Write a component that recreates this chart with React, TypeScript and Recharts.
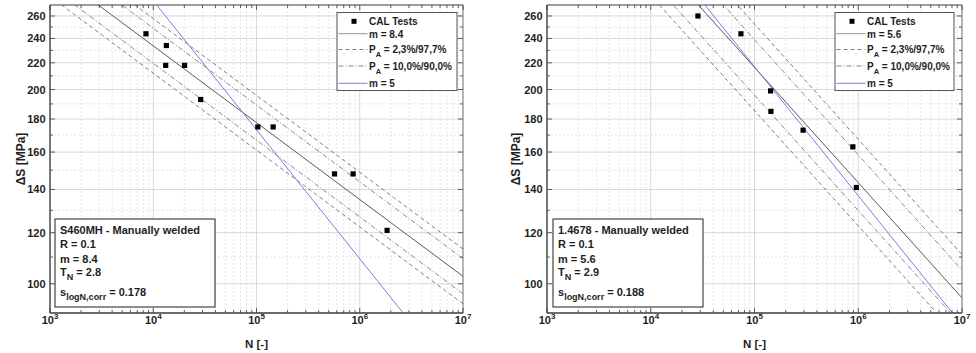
import React from 'react';
import { ComposedChart, Line, Scatter, XAxis, YAxis, ReferenceLine, ReferenceArea } from 'recharts';

const FONT = '"Liberation Sans", Arial, Helvetica, sans-serif';
const AX = '#3a3a3a';
const TXT = '#1e1e1e';

// ---- axes / ticks ----
const xDomain = [1e3, 1e7];
const yDomain = [90.1, 270.4];
const xMajorTicks = [1e3, 1e4, 1e5, 1e6, 1e7];
const xMinorTicks = [
  2e3, 3e3, 4e3, 5e3, 6e3, 7e3, 8e3, 9e3,
  2e4, 3e4, 4e4, 5e4, 6e4, 7e4, 8e4, 9e4,
  2e5, 3e5, 4e5, 5e5, 6e5, 7e5, 8e5, 9e5,
  2e6, 3e6, 4e6, 5e6, 6e6, 7e6, 8e6, 9e6,
];
const yMajorTicks = [100, 120, 140, 160, 180, 200, 220, 240, 260];
const yMinorTicks = [110, 130, 150, 170, 190, 210, 230, 250];

// ---- line endpoints (N at both ends) ----
const lineN = [1e3, 1e7];

// ---- left panel: S460MH ----
const leftTestN = [8500, 13400, 13200, 20100, 28800, 103000, 145000, 570000, 863000, 1840000];
const leftTestS = [244, 234, 218, 218, 193, 175, 175, 148, 148, 121];
const leftMeanS = [307.4, 102.7];
const leftP977S = [338.9, 113.2];
const leftP023S = [278.9, 93.1];
const leftP90S = [327.3, 109.4];
const leftP10S = [288.8, 96.5];
const leftM5S = [435, 69.0];

// ---- right panel: 1.4678 ----
const rightTestN = [28500, 74000, 143000, 144000, 294000, 887000, 960000];
const rightTestS = [260, 244, 199, 185, 173, 163, 141];
const rightMeanS = [492.7, 95.1];
const rightP977S = [575.2, 111.0];
const rightP023S = [422.2, 81.5];
const rightP90S = [544.0, 105.0];
const rightP10S = [446.2, 86.1];
const rightM5S = [545, 86.4];

const pts = (ns: number[], ss: number[]) => ns.map((n, i) => ({ N: n, S: ss[i] }));

const PLOT_TOP = 5;
const CH_W = 488;
const CH_H = 353;

type PanelProps = {
  left: number;
  yAxisWidth: number;
  rightMargin: number;
  testN: number[];
  testS: number[];
  meanS: number[];
  p977S: number[];
  p023S: number[];
  p90S: number[];
  p10S: number[];
  m5S: number[];
  mText: string;
  title: string;
  rText: string;
  tnText: string;
  sText: string;
  legendX: number;
  legendW: number;
  annX: number;
  annW: number;
  yLabelX: number;
};

const squareShape = (p: any) => (
  <rect x={p.cx - 2.6} y={p.cy - 2.6} width={5.2} height={5.2} fill="#000" />
);

function Panel(props: PanelProps) {
  const plotLeft = props.yAxisWidth;
  const plotRight = CH_W - props.rightMargin;
  const plotBottom = CH_H - 40;

  const XTick = (tp: any) => {
    const { x, y, payload } = tp;
    const v = payload.value;
    const major = xMajorTicks.includes(v);
    const len = major ? 5 : 3;
    const exp = Math.round(Math.log10(v));
    return (
      <g>
        <line x1={x} x2={x} y1={y} y2={y - len} stroke={AX} strokeWidth={0.8} />
        <line x1={x} x2={x} y1={PLOT_TOP} y2={PLOT_TOP + len} stroke={AX} strokeWidth={0.8} />
        {major && (
          <text x={x} y={y + 10.5} textAnchor="middle" fontFamily={FONT} fontWeight="bold" fontSize={11} fill={TXT}>
            10
            <tspan dy={-5} fontSize={8}>{exp}</tspan>
          </text>
        )}
      </g>
    );
  };

  const YTick = (tp: any) => {
    const { x, y, payload } = tp;
    const v = payload.value;
    const major = yMajorTicks.includes(v);
    const len = major ? 5 : 3;
    return (
      <g>
        <line x1={x} x2={x + len} y1={y} y2={y} stroke={AX} strokeWidth={0.8} />
        <line x1={plotRight - len} x2={plotRight} y1={y} y2={y} stroke={AX} strokeWidth={0.8} />
        {major && (
          <text x={x - 4.5} y={y + 4} textAnchor="end" fontFamily={FONT} fontWeight="bold" fontSize={11} fill={TXT}>
            {v}
          </text>
        )}
      </g>
    );
  };

  const lx = props.legendX;
  const legRows = [21.3, 33.7, 49.5, 66, 83.3];
  const legBase = [25.3, 37.7, 53.3, 70, 87.3];
  const tx = lx + 32;
  const ax = props.annX;
  const atx = ax + 5;

  return (
    <div style={{ position: 'absolute', left: props.left, top: 0, width: CH_W, height: CH_H }}>
      <ComposedChart width={CH_W} height={CH_H} margin={{ top: PLOT_TOP, right: props.rightMargin, bottom: 0, left: 0 }}>
        <XAxis
          type="number"
          dataKey="N"
          scale="log"
          domain={xDomain}
          allowDataOverflow
          ticks={[...xMajorTicks, ...xMinorTicks]}
          interval={0}
          tick={XTick}
          tickSize={0}
          tickMargin={0}
          tickLine={false}
          axisLine={{ stroke: AX, strokeWidth: 1 }}
          height={40}
        />
        <YAxis
          type="number"
          dataKey="S"
          scale="log"
          domain={yDomain}
          allowDataOverflow
          ticks={[...yMajorTicks, ...yMinorTicks]}
          interval={0}
          tick={YTick}
          tickSize={0}
          tickMargin={0}
          tickLine={false}
          axisLine={{ stroke: AX, strokeWidth: 1 }}
          width={props.yAxisWidth}
        />
        {xMinorTicks.map((v) => (
          <ReferenceLine key={'xm' + v} x={v} stroke="#dedede" strokeWidth={0.8} strokeDasharray="2 2" />
        ))}
        {yMinorTicks.map((v) => (
          <ReferenceLine key={'ym' + v} y={v} stroke="#dedede" strokeWidth={0.8} strokeDasharray="2 2" />
        ))}
        {xMajorTicks.map((v) => (
          <ReferenceLine key={'xM' + v} x={v} stroke="#d4d4d4" strokeWidth={0.9} />
        ))}
        {yMajorTicks.map((v) => (
          <ReferenceLine key={'yM' + v} y={v} stroke="#d4d4d4" strokeWidth={0.9} />
        ))}
        <Line data={pts(lineN, props.p977S)} dataKey="S" type="linear" stroke="#5e5e5e" strokeWidth={0.8} strokeDasharray="4 3" dot={false} activeDot={false} isAnimationActive={false} />
        <Line data={pts(lineN, props.p023S)} dataKey="S" type="linear" stroke="#5e5e5e" strokeWidth={0.8} strokeDasharray="4 3" dot={false} activeDot={false} isAnimationActive={false} />
        <Line data={pts(lineN, props.p90S)} dataKey="S" type="linear" stroke="#6a6a6a" strokeWidth={0.8} strokeDasharray="5 2 1 2" dot={false} activeDot={false} isAnimationActive={false} />
        <Line data={pts(lineN, props.p10S)} dataKey="S" type="linear" stroke="#6a6a6a" strokeWidth={0.8} strokeDasharray="5 2 1 2" dot={false} activeDot={false} isAnimationActive={false} />
        <Line data={pts(lineN, props.meanS)} dataKey="S" type="linear" stroke="#5a5a5a" strokeWidth={1} dot={false} activeDot={false} isAnimationActive={false} />
        <Line data={pts(lineN, props.m5S)} dataKey="S" type="linear" stroke="#7d7de0" strokeWidth={1} dot={false} activeDot={false} isAnimationActive={false} />
        <Scatter data={pts(props.testN, props.testS)} dataKey="S" shape={squareShape} isAnimationActive={false} />
        <ReferenceArea x1={xDomain[0]} x2={xDomain[1]} y1={yDomain[0]} y2={yDomain[1]} fill="none" fillOpacity={0} stroke={AX} strokeWidth={1} />
      </ComposedChart>
      <svg width={CH_W} height={CH_H} style={{ position: 'absolute', left: 0, top: 0, pointerEvents: 'none' }}>
        {/* axis labels */}
        <text x={(plotLeft + plotRight) / 2} y={348} textAnchor="middle" fontFamily={FONT} fontWeight="bold" fontSize={11.5} fill={TXT}>
          N [-]
        </text>
        <text
          x={props.yLabelX}
          y={(PLOT_TOP + plotBottom) / 2}
          transform={`rotate(-90 ${props.yLabelX} ${(PLOT_TOP + plotBottom) / 2})`}
          textAnchor="middle"
          fontFamily={FONT}
          fontWeight="bold"
          fontSize={12}
          fill={TXT}
        >
          ΔS [MPa]
        </text>

        {/* legend */}
        <rect x={lx} y={12.5} width={props.legendW} height={78} fill="#fff" stroke="#555" strokeWidth={1} />
        <rect x={lx + 17 - 2.5} y={legRows[0] - 2.5} width={5} height={5} fill="#000" />
        <line x1={lx + 1.5} x2={lx + 30.5} y1={legRows[1]} y2={legRows[1]} stroke="#8a8a8a" strokeWidth={0.9} />
        <line x1={lx + 1.5} x2={lx + 30.5} y1={legRows[2]} y2={legRows[2]} stroke="#5e5e5e" strokeWidth={0.8} strokeDasharray="4 3" />
        <line x1={lx + 1.5} x2={lx + 30.5} y1={legRows[3]} y2={legRows[3]} stroke="#6a6a6a" strokeWidth={0.8} strokeDasharray="5 2 1 2" />
        <line x1={lx + 1.5} x2={lx + 30.5} y1={legRows[4]} y2={legRows[4]} stroke="#7d7de0" strokeWidth={1} />
        <g fontFamily={FONT} fontWeight="bold" fontSize={10} fill={TXT}>
          <text x={tx} y={legBase[0]}>CAL Tests</text>
          <text x={tx} y={legBase[1]}>{props.mText}</text>
          <text x={tx} y={legBase[2]}>
            P<tspan fontSize={7.5} dy={3.5}>A</tspan>
            <tspan dy={-3.5}> = 2,3%/97,7%</tspan>
          </text>
          <text x={tx} y={legBase[3]}>
            P<tspan fontSize={7.5} dy={3.5}>A</tspan>
            <tspan dy={-3.5}> = 10,0%/90,0%</tspan>
          </text>
          <text x={tx} y={legBase[4]}>m = 5</text>
        </g>

        {/* annotation box */}
        <rect x={ax} y={219} width={props.annW} height={88} fill="#fff" stroke="#444" strokeWidth={1.2} />
        <g fontFamily={FONT} fontWeight="bold" fontSize={11} fill={TXT}>
          <text x={atx} y={233.5}>{props.title}</text>
          <text x={atx} y={247.5}>{props.rText}</text>
          <text x={atx} y={262.5}>{props.mText}</text>
          <text x={atx} y={276}>
            T<tspan fontSize={9} dy={3.5}>N</tspan>
            <tspan dy={-3.5}>{' = ' + props.tnText}</tspan>
          </text>
          <text x={atx} y={296}>
            s<tspan fontSize={9} dy={3.5}>logN,corr</tspan>
            <tspan dy={-3.5}>{' = ' + props.sText}</tspan>
          </text>
        </g>
      </svg>
    </div>
  );
}

export default function App() {
  return (
    <div style={{ position: 'absolute', left: 0, top: 0, width: 976, height: 353, background: '#fff', overflow: 'hidden' }}>
      <Panel
        left={0}
        yAxisWidth={50}
        rightMargin={25}
        testN={leftTestN}
        testS={leftTestS}
        meanS={leftMeanS}
        p977S={leftP977S}
        p023S={leftP023S}
        p90S={leftP90S}
        p10S={leftP10S}
        m5S={leftM5S}
        mText="m = 8.4"
        title="S460MH - Manually welded"
        rText="R = 0.1"
        tnText="2.8"
        sText="0.178"
        legendX={337}
        legendW={120}
        annX={55}
        annW={160}
        yLabelX={25}
      />
      <Panel
        left={488}
        yAxisWidth={59}
        rightMargin={14}
        testN={rightTestN}
        testS={rightTestS}
        meanS={rightMeanS}
        p977S={rightP977S}
        p023S={rightP023S}
        p90S={rightP90S}
        p10S={rightP10S}
        m5S={rightM5S}
        mText="m = 5.6"
        title="1.4678 - Manually welded"
        rText="R = 0.1"
        tnText="2.9"
        sText="0.188"
        legendX={347}
        legendW={119}
        annX={65}
        annW={150}
        yLabelX={32}
      />
    </div>
  );
}
